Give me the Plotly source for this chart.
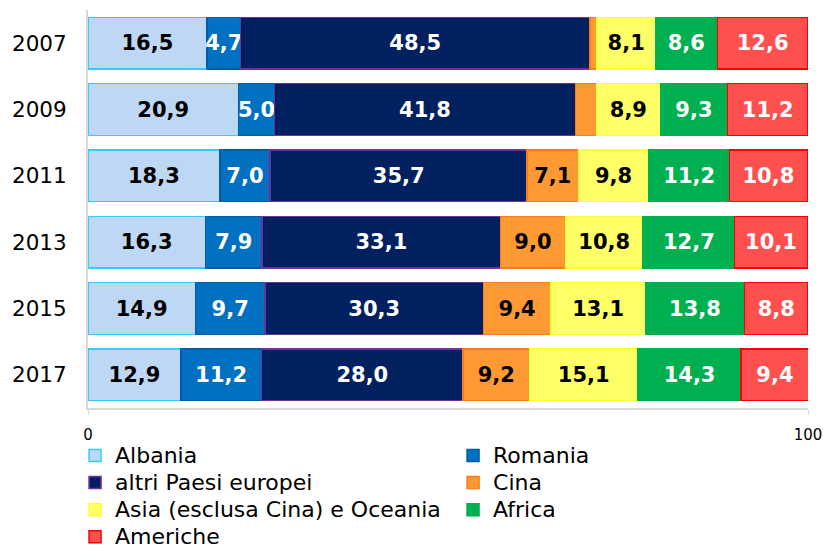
import plotly.graph_objects as go

years = ["2007", "2009", "2011", "2013", "2015", "2017"]
series_names = ["Albania", "Romania", "altri Paesi europei", "Cina",
                "Asia (esclusa Cina) e Oceania", "Africa", "Americhe"]
albania = [16.5, 20.9, 18.3, 16.3, 14.9, 12.9]
romania = [4.7, 5.0, 7.0, 7.9, 9.7, 11.2]
altri_europei = [48.5, 41.8, 35.7, 33.1, 30.3, 28.0]
cina = [1.0, 2.9, 7.1, 9.0, 9.4, 9.2]
asia_oceania = [8.1, 8.9, 9.8, 10.8, 13.1, 15.1]
africa = [8.6, 9.3, 11.2, 12.7, 13.8, 14.3]
americhe = [12.6, 11.2, 10.8, 10.1, 8.8, 9.4]
cina_labels_shown = [False, False, True, True, True, True]
x_tick_values = [0, 100]
x_tick_labels = ["0", "100"]

series_values = [albania, romania, altri_europei, cina, asia_oceania, africa, americhe]
legend_column = ["legend", "legend2", "legend", "legend2", "legend", "legend2", "legend"]
fills = ["#BDD7F5", "#0070C0", "#002060", "#FF9933", "#FFFF66", "#00B050", "#FF5050"]
borders = ["#33CCFF", "#005EA8", "#7030A0", "#FF7A1A", "#FFFF33", "#00B050", "#FF0000"]
text_colors = ["black", "white", "white", "black", "black", "white", "white"]

FONT = "DejaVu Sans, sans-serif"

fig = go.Figure()
for i, (name, vals) in enumerate(zip(series_names, series_values)):
    labels = [f"{v:.1f}".replace(".", ",") for v in vals]
    if name == "Cina":
        labels = [l if s else "" for l, s in zip(labels, cina_labels_shown)]
    fig.add_trace(go.Bar(
        y=years, x=vals, orientation="h",
        name=f'<span style="font-size:22px">{name}</span>',
        legend=legend_column[i],
        marker=dict(color=fills[i], line=dict(color=borders[i], width=1.5)),
        text=labels, textposition="inside", insidetextanchor="middle",
        textangle=0,
        textfont=dict(color=text_colors[i], size=21, family=FONT, weight="bold"),
        hoverinfo="skip",
    ))

legend_common = dict(orientation="v", xanchor="left", yref="container", y=0.204,
                     yanchor="top", font=dict(size=18.5, family=FONT),
                     traceorder="normal", itemwidth=30, tracegroupgap=0,
                     bgcolor="rgba(0,0,0,0)")

fig.update_layout(
    barmode="stack",
    bargap=0.22,
    width=823, height=549,
    margin=dict(l=88, r=15, t=10, b=141),
    plot_bgcolor="white", paper_bgcolor="white",
    font=dict(family=FONT, color="black"),
    uniformtext=dict(minsize=21, mode="show"),
    xaxis=dict(range=[0, 100], tickvals=x_tick_values, ticktext=x_tick_labels,
               automargin=False,
               showgrid=False, zeroline=False, showline=True, linecolor="#D9D9D9",
               linewidth=2, ticks="outside", ticklen=5, tickcolor="#D9D9D9",
               ticklabelstandoff=7,
               tickfont=dict(size=15, family=FONT)),
    yaxis=dict(autorange="reversed", showgrid=False, showline=True,
               automargin=False,
               linecolor="#D9D9D9", linewidth=2, ticks="",
               ticklabelstandoff=15, tickfont=dict(size=21.5, family=FONT)),
    legend=dict(x=-0.018, **legend_common),
    legend2=dict(x=0.507, **legend_common),
    showlegend=True,
)

fig.write_html("out.html", config={"displayModeBar": False},
               post_script="document.body.style.margin='0';")
